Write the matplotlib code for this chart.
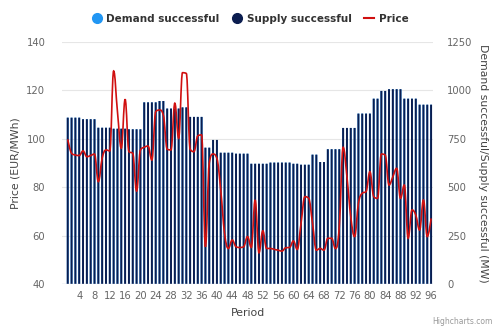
import numpy as np
import matplotlib.pyplot as plt
from matplotlib.path import Path
from matplotlib.patches import PathPatch
from matplotlib.lines import Line2D

periods = np.arange(1, 97)

# supply successful (MW), one value per 15-min period
supply = ([859]*4 + [851]*4 + [807]*4 + [802]*4 + [799]*4 + [938]*4 +
          [945]*2 + [906]*4 + [912]*2 + [863]*4 + [704]*2 + [744]*2 +
          [678]*4 + [673]*4 + [621]*5 + [627]*6 + [621]*2 + [616]*3 +
          [668]*2 + [630]*2 + [696]*4 + [806]*4 + [880]*4 + [957]*2 +
          [997]*2 + [1006]*4 + [957]*4 + [926]*4)
demand = list(supply)

price = [99.8, 94.0, 93.3, 93.1, 95.0, 92.6, 93.1, 93.7, 82.3, 92.0,
         95.4, 95.0, 128.0, 111.2, 96.1, 116.3, 94.7, 94.0, 78.4, 95.3,
         96.5, 97.0, 91.2, 111.2, 111.9, 109.8, 95.7, 95.4, 114.7, 100.2,
         127.3, 127.0, 95.7, 94.7, 101.2, 101.6, 55.4, 90.0, 93.7, 91.9,
         78.8, 61.0, 54.7, 58.2, 55.4, 55.1, 55.4, 59.6, 55.1, 74.7,
         52.9, 62.0, 54.7, 54.7, 54.3, 54.0, 53.6, 55.0, 55.1, 57.8,
         54.3, 65.1, 76.1, 75.4, 65.1, 54.0, 54.7, 54.0, 58.9, 58.9,
         54.7, 63.7, 96.5, 84.3, 67.8, 59.6, 73.3, 77.5, 78.2, 86.4,
         76.1, 75.4, 93.7, 93.3, 80.9, 84.3, 87.8, 75.4, 80.9, 58.9,
         70.6, 68.5, 62.3, 74.7, 59.6, 67.1]

NAVY = '#0b1d4f'
BLUE = '#2196f3'
RED = '#d01010'
GRAY = '#666666'


def spline_path(xs, ys, smoothing=1.5):
    # bezier path like highcharts "spline" series
    n = len(xs)
    left = [(xs[i], ys[i]) for i in range(n)]
    right = [(xs[i], ys[i]) for i in range(n)]
    d = smoothing + 1
    for i in range(1, n - 1):
        x, y = xs[i], ys[i]
        lx = (smoothing * x + xs[i-1]) / d
        ly = (smoothing * y + ys[i-1]) / d
        rx = (smoothing * x + xs[i+1]) / d
        ry = (smoothing * y + ys[i+1]) / d
        if rx != lx:
            corr = (ry - ly) * (rx - x) / (rx - lx) + y - ry
            ly += corr
            ry += corr
        if ly > ys[i-1] and ly > y:
            ly = max(ys[i-1], y); ry = 2 * y - ly
        elif ly < ys[i-1] and ly < y:
            ly = min(ys[i-1], y); ry = 2 * y - ly
        if ry > ys[i+1] and ry > y:
            ry = max(ys[i+1], y); ly = 2 * y - ry
        elif ry < ys[i+1] and ry < y:
            ry = min(ys[i+1], y); ly = 2 * y - ry
        left[i] = (lx, ly)
        right[i] = (rx, ry)
    verts = [(xs[0], ys[0])]
    codes = [Path.MOVETO]
    for i in range(1, n):
        verts += [right[i-1], left[i], (xs[i], ys[i])]
        codes += [Path.CURVE4] * 3
    return Path(verts, codes)


plt.rcParams['font.family'] = ['DejaVu Sans']
fig = plt.figure(figsize=(5, 3.33), dpi=100)
ax = fig.add_axes([0.124, 0.147, 0.742, 0.727])
ax2 = ax.twinx()

# bars on the MW axis, price line on top
bars_d = ax2.bar(periods, demand, width=0.5, color=BLUE, zorder=1)
bars_s = ax2.bar(periods, supply, width=0.5, color=NAVY, zorder=2)
for b in list(bars_d) + list(bars_s):
    b.set_snap(False)
ax2.set_ylim(0, 1250)
ax2.set_yticks(range(0, 1251, 250))

ax.set_zorder(ax2.get_zorder() + 1)
ax.patch.set_visible(False)
ax.add_patch(PathPatch(spline_path(list(periods), price), fill=False,
                       edgecolor=RED, lw=1.2, zorder=3))
ax.set_ylim(40, 140)
ax.set_yticks(range(40, 141, 20))
ax.set_xlim(-0.5, 96.5)
ax.set_xticks(range(4, 97, 4))

for a in (ax, ax2):
    for s in a.spines.values():
        s.set_visible(False)
    a.tick_params(length=0, labelsize=7.2, colors=GRAY)
ax.tick_params(axis='y', pad=12)
ax2.tick_params(axis='y', pad=10)
ax.tick_params(axis='x', pad=5)

ax2.yaxis.grid(True, color='#e6e6e6', lw=0.8)
ax2.set_axisbelow(True)
ax.axhline(40, color='#ccd6eb', lw=1.0, zorder=4)

ax.set_xlabel('Period', color='#444444', fontsize=7.8, labelpad=5)
ax.set_ylabel('Price (EUR/MWh)', color='#444444', fontsize=7.8, labelpad=4)
ax2.set_ylabel('Demand successful/Supply successful (MW)', color='#444444',
               fontsize=7.8, rotation=270, labelpad=11)

handles = [Line2D([], [], ls='', marker='o', ms=7, color=BLUE),
           Line2D([], [], ls='', marker='o', ms=7, color=NAVY),
           Line2D([], [], color=RED, lw=1.5)]
leg = fig.legend(handles, ['Demand successful', 'Supply successful', 'Price'],
                 loc='center', bbox_to_anchor=(0.5, 0.943), ncol=3, frameon=False,
                 prop={'size': 7.5, 'weight': 'bold'}, handlelength=1.0,
                 handletextpad=0.4, columnspacing=1.2)
for t in leg.get_texts():
    t.set_color('#333333')

fig.text(0.985, 0.02, 'Highcharts.com', ha='right', va='bottom',
         fontsize=5.5, color='#999999')

fig.savefig('out.png', dpi=100)
